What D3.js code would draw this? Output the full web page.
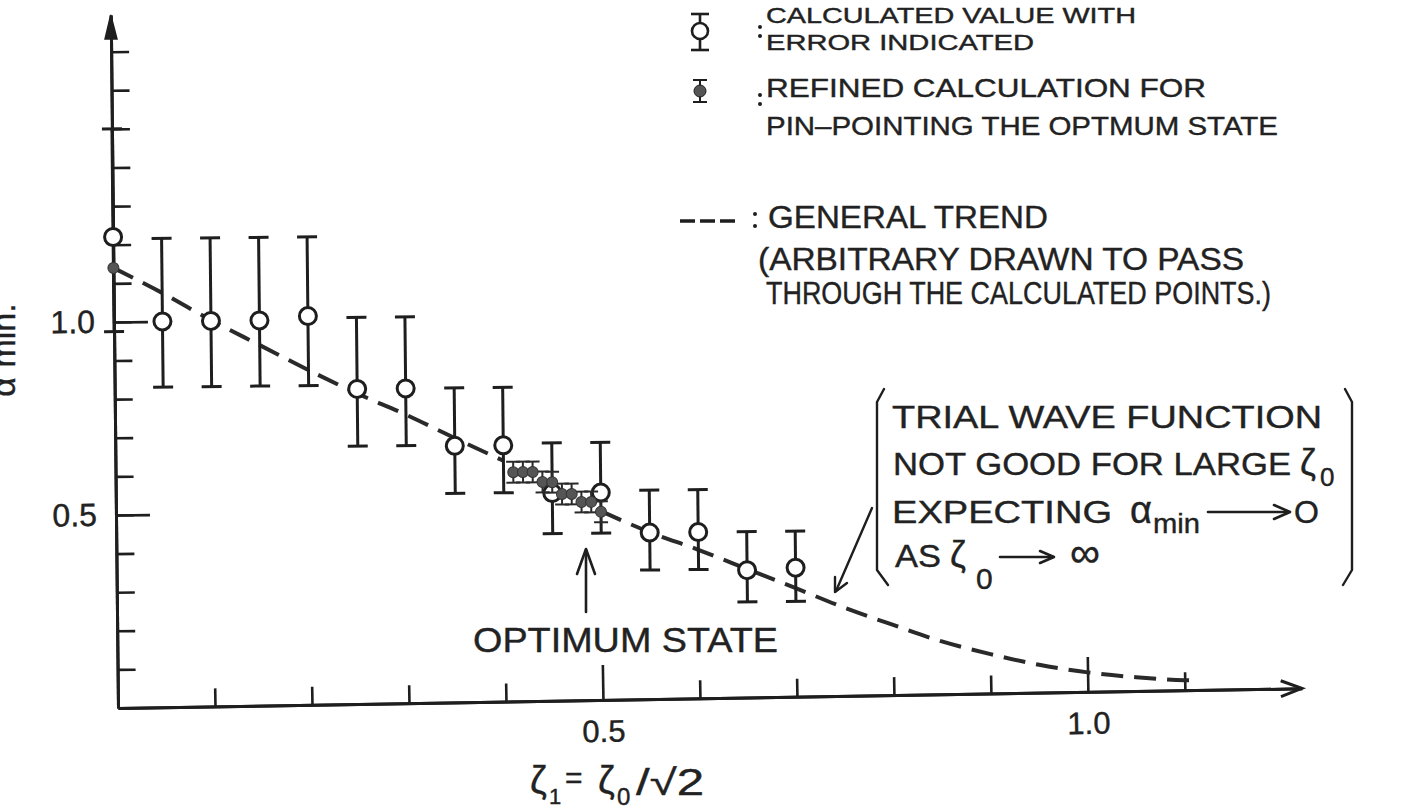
<!DOCTYPE html>
<html>
<head>
<meta charset="utf-8">
<script src="https://cdn.jsdelivr.net/npm/d3@7/dist/d3.min.js"></script>
<style>
html,body{margin:0;padding:0;background:#fff;}
svg{display:block;}
text{font-family:"Liberation Sans",Arial,sans-serif;fill:#222;stroke:#222;stroke-width:0.4px;}
</style>
</head>
<body>
<svg id="chart" width="1427" height="810"></svg>
<script>
// ---------------- data ----------------
// calculated values with error bars (open circles)
const calcX  = [0, 0.05, 0.10, 0.15, 0.20, 0.25, 0.30, 0.35, 0.40, 0.45, 0.50, 0.55, 0.60, 0.65, 0.70];
const calcY  = [1.22, 1.00, 1.00, 1.00, 1.01, 0.82, 0.82, 0.67, 0.67, 0.545, 0.545, 0.44, 0.44, 0.34, 0.345];
const calcHi = [1.50, 1.215, 1.215, 1.215, 1.215, 1.005, 1.005, 0.82, 0.82, 0.675, 0.675, 0.55, 0.55, 0.44, 0.44];
const calcLo = [0.975, 0.83, 0.83, 0.83, 0.83, 0.672, 0.672, 0.547, 0.547, 0.44, 0.44, 0.343, 0.343, 0.258, 0.258];

// refined calculations (filled dots)
const refX   = [0, 0.41, 0.42, 0.43, 0.44, 0.45, 0.46, 0.47, 0.48, 0.49, 0.50];
const refY   = [1.14, 0.60, 0.60, 0.60, 0.574, 0.573, 0.542, 0.542, 0.521, 0.521, 0.495];
const refErr = [0, 0.027, 0.027, 0.027, 0.027, 0.027, 0.027, 0.027, 0.027, 0.027, 0.027];

// general trend (dashed)
const trendX = [0, 0.05, 0.10, 0.15, 0.20, 0.25, 0.30, 0.35, 0.40, 0.45, 0.50, 0.55, 0.60, 0.65, 0.70, 0.75, 0.80, 0.85, 0.90, 0.95, 1.00, 1.05, 1.10, 1.11];
const trendY = [1.14, 1.074, 1.002, 0.936, 0.87, 0.808, 0.752, 0.69, 0.63, 0.563, 0.497, 0.441, 0.394, 0.343, 0.292, 0.24, 0.194, 0.150, 0.116, 0.087, 0.066, 0.052, 0.043, 0.042];

// axis ticks
const xTicks = [0.1, 0.2, 0.3, 0.4, 0.5, 0.6, 0.7, 0.8, 0.9, 1.0, 1.1];
const xMajor = [0.5, 1.0];
const xLabels = ["0.5", "1.0"];
const yTicks = [0.1, 0.2, 0.3, 0.4, 0.5, 0.6, 0.7, 0.8, 0.9, 1.0, 1.1, 1.2, 1.3, 1.4, 1.5, 1.6, 1.7];
const yMajor = [0.5, 1.0];
const yLabels = ["0.5", "1.0"];

// ---------------- drawing ----------------
const INK = "#1e1e1e";
const svg = d3.select("#chart");
svg.append("rect").attr("width", 1427).attr("height", 810).attr("fill", "#fff");

const x = d3.scaleLinear().domain([0, 1.2206]).range([118, 1302]);
const y = d3.scaleLinear().domain([0, 1.795]).range([708, 15]);

// the scanned sheet is slightly rotated
const plot = svg.append("g").attr("transform", "rotate(-0.6,118,708)");

// ---- y axis ----
const gy = plot.append("g").attr("transform", "translate(118,0)");
gy.call(d3.axisLeft(y).tickValues(yTicks).tickSize(-18).tickSizeOuter(0).tickFormat(""));
gy.append("g").call(d3.axisLeft(y).tickValues(yMajor).tickSize(-34).tickSizeOuter(0).tickPadding(19)
   .tickFormat((d, i) => yLabels[i]));
gy.selectAll("path.domain").attr("stroke", INK).attr("stroke-width", 3);
gy.selectAll("line").attr("stroke", INK).attr("stroke-width", 2.6);
gy.selectAll("text").attr("font-size", 32).attr("fill", "#222").attr("font-family", "Liberation Sans, Arial, sans-serif");
gy.append("path")
  .attr("d", `M-6,${y(1.795) + 24}L0,${y(1.795)}L6,${y(1.795) + 24}Z`)
  .attr("fill", INK).attr("stroke", INK).attr("stroke-width", 1.5);

// ---- x axis ----
const gx = plot.append("g").attr("transform", "translate(0,708) rotate(-0.35,118,0)");
gx.call(d3.axisBottom(x).tickValues(xTicks.filter(v => !xMajor.includes(v))).tickSize(-18).tickSizeOuter(0).tickFormat(""));
gx.append("g").call(d3.axisBottom(x).tickValues(xMajor).tickSize(-35).tickSizeOuter(0).tickPadding(20)
   .tickFormat((d, i) => xLabels[i]));
gx.selectAll("path.domain").attr("stroke", INK).attr("stroke-width", 3);
gx.selectAll("line").attr("stroke", INK).attr("stroke-width", 2.6);
gx.selectAll("text").attr("font-size", 31).attr("fill", "#222").attr("font-family", "Liberation Sans, Arial, sans-serif");
gx.append("path")
  .attr("d", `M${x(1.2206) - 21},-8L${x(1.2206)},0L${x(1.2206) - 21},8`)
  .attr("fill", "none").attr("stroke", INK).attr("stroke-width", 3);

// ---- trend ----
const trend = trendX.map((v, i) => [v, trendY[i]]);
const line = d3.line()
  .defined(d => !(d[0] > 0.4 && d[0] < 0.5))
  .x(d => x(d[0])).y(d => y(d[1]))
  .curve(d3.curveMonotoneX);
plot.append("path").attr("d", line(trend))
  .attr("fill", "none").attr("stroke", "#2a2a2a").attr("stroke-width", 4)
  .attr("stroke-dasharray", "22 11").attr("stroke-linecap", "butt");

// ---- calculated values with errors ----
const calc = calcX.map((v, i) => ({x: v, y: calcY[i], hi: calcHi[i], lo: calcLo[i]}));
const cg = plot.append("g").attr("stroke", INK).attr("stroke-width", 3);
cg.selectAll("line.bar").data(calc).join("line")
  .attr("x1", d => x(d.x)).attr("x2", d => x(d.x))
  .attr("y1", d => y(d.hi)).attr("y2", d => y(d.lo));
cg.selectAll("line.capt").data(calc).join("line")
  .attr("x1", d => x(d.x) - 10).attr("x2", d => x(d.x) + 10)
  .attr("y1", d => y(d.hi)).attr("y2", d => y(d.hi));
cg.selectAll("line.capb").data(calc).join("line")
  .attr("x1", d => x(d.x) - 10).attr("x2", d => x(d.x) + 10)
  .attr("y1", d => y(d.lo)).attr("y2", d => y(d.lo));
cg.selectAll("circle").data(calc).join("circle")
  .attr("cx", d => x(d.x)).attr("cy", d => y(d.y)).attr("r", 8.5)
  .attr("fill", "#fff");

// ---- refined calculations ----
const ref = refX.map((v, i) => ({x: v, y: refY[i], e: refErr[i]}));
const rg = plot.append("g").attr("stroke", "#2a2a2a").attr("stroke-width", 2);
const refBars = ref.filter(d => d.e > 0);
rg.selectAll("line.bar").data(refBars).join("line")
  .attr("x1", d => x(d.x)).attr("x2", d => x(d.x))
  .attr("y1", d => y(d.y + d.e)).attr("y2", d => y(d.y - d.e));
rg.selectAll("line.capt").data(refBars).join("line")
  .attr("x1", d => x(d.x) - 7).attr("x2", d => x(d.x) + 7)
  .attr("y1", d => y(d.y + d.e)).attr("y2", d => y(d.y + d.e));
rg.selectAll("line.capb").data(refBars).join("line")
  .attr("x1", d => x(d.x) - 7).attr("x2", d => x(d.x) + 7)
  .attr("y1", d => y(d.y - d.e)).attr("y2", d => y(d.y - d.e));
rg.selectAll("circle").data(ref).join("circle")
  .attr("cx", d => x(d.x)).attr("cy", d => y(d.y)).attr("r", 5.5)
  .attr("fill", "#555").attr("stroke", "#333").attr("stroke-width", 1);

// ---------------- texts / annotations ----------------
function txt(s, tx, ty, size, len, opts = {}) {
  const t = svg.append("text").attr("x", tx).attr("y", ty).attr("font-size", size).text(s);
  if (len) t.attr("textLength", len).attr("lengthAdjust", "spacingAndGlyphs");
  if (opts.anchor) t.attr("text-anchor", opts.anchor);
  return t;
}
function stroke(d, w = 2.6) {
  return svg.append("path").attr("d", d).attr("fill", "none").attr("stroke", INK)
    .attr("stroke-width", w).attr("stroke-linecap", "round").attr("stroke-linejoin", "round");
}

// y axis title
svg.append("text").attr("transform", "translate(15,350) rotate(-90)")
  .attr("text-anchor", "middle").attr("font-size", 34).text("α min.");

// x axis title  ζ1 = ζ0/√2
txt("ζ", 530, 793, 38);
txt("1", 549, 804, 22);
txt("=", 565, 788, 30);
txt("ζ", 598, 793, 38);
txt("0", 617, 805, 24);
txt("/√2", 636, 795, 36, 68);

// optimum state
txt("OPTIMUM STATE", 473, 652, 35, 305);
stroke(`M586,612L586,550`);
stroke(`M577,574L586,549L595,574`);

// legend
const lg = svg.append("g").attr("stroke", INK).attr("stroke-width", 2.6);
lg.append("line").attr("x1", 700).attr("x2", 700).attr("y1", 14).attr("y2", 50);
lg.append("line").attr("x1", 691).attr("x2", 709).attr("y1", 14).attr("y2", 14);
lg.append("line").attr("x1", 691).attr("x2", 709).attr("y1", 50).attr("y2", 50);
lg.append("circle").attr("cx", 700).attr("cy", 31).attr("r", 8).attr("fill", "#fff");
lg.append("line").attr("x1", 700).attr("x2", 700).attr("y1", 80).attr("y2", 102).attr("stroke-width", 2);
lg.append("line").attr("x1", 693).attr("x2", 707).attr("y1", 80).attr("y2", 80).attr("stroke-width", 2);
lg.append("line").attr("x1", 693).attr("x2", 707).attr("y1", 102).attr("y2", 102).attr("stroke-width", 2);
lg.append("circle").attr("cx", 700).attr("cy", 91).attr("r", 6).attr("fill", "#555").attr("stroke-width", 1);
// dashed sample
lg.append("line").attr("x1", 680).attr("x2", 736).attr("y1", 221).attr("y2", 221)
  .attr("stroke-width", 3.5).attr("stroke-dasharray", "15 5");
// colons
[[760, 27], [760, 36], [760, 95], [760, 104], [755, 214], [755, 226]].forEach(p =>
  svg.append("circle").attr("cx", p[0]).attr("cy", p[1]).attr("r", 2).attr("fill", INK));

txt("CALCULATED VALUE WITH", 766, 23, 22, 370);
txt("ERROR INDICATED", 766, 50, 22, 268);
txt("REFINED CALCULATION FOR", 766, 97, 26, 440);
txt("PIN–POINTING THE OPTMUM STATE", 766, 135, 26, 512);
txt("GENERAL TREND", 768, 228, 32, 280);
txt("(ARBITRARY DRAWN TO PASS", 758, 270, 32, 486);
txt("THROUGH THE CALCULATED POINTS.)", 766, 304, 32, 505);

// right annotation
stroke(`M884,389L877,402L877,570L888,585`, 2.4);
stroke(`M1345,389L1352,402L1352,570L1343,585`, 2.4);
txt("TRIAL WAVE FUNCTION", 892, 428, 32, 430);
txt("NOT GOOD FOR LARGE", 893, 475, 32, 398);
txt("ζ", 1300, 475, 36);
txt("0", 1320, 486, 26);
txt("EXPECTING", 892, 523, 32, 220);
txt("α", 1130, 523, 38);
txt("min", 1153, 533, 28, 47);
stroke(`M1208,512L1286,512`, 2.6);
stroke(`M1274,505L1290,512L1274,519`, 2.6);
txt("O", 1294, 523, 32);
txt("AS", 895, 567, 32, 46);
txt("ζ", 950, 567, 36);
txt("0", 976, 589, 30);
stroke(`M1000,557L1050,557`, 2.6);
stroke(`M1040,551L1054,557L1040,563`, 2.6);
txt("∞", 1070, 567, 42);
// pointer arrow to the curve
stroke(`M872,508L836,591`, 2.4);
stroke(`M835,577L835,592L847,583`, 2.4);
</script>
</body>
</html>
